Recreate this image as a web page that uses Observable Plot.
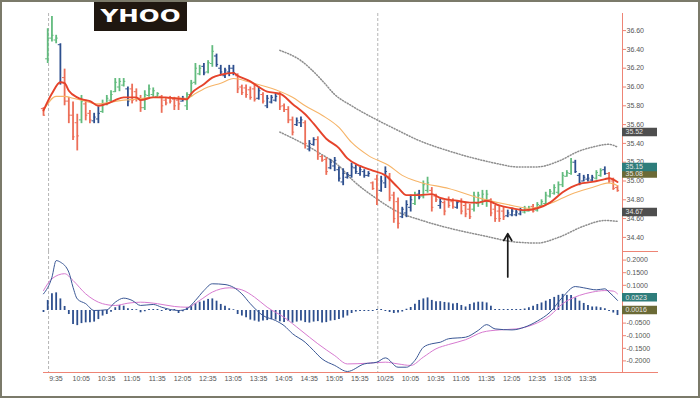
<!DOCTYPE html>
<html><head><meta charset="utf-8">
<script src="https://cdn.jsdelivr.net/npm/d3@7"></script>
<script src="https://cdn.jsdelivr.net/npm/@observablehq/plot@0.6"></script>
<style>
html,body{margin:0;padding:0;background:#fff;}
#chart{position:relative;width:700px;height:398px;overflow:hidden;background:#fff;font-family:"Liberation Sans",Arial,sans-serif;}
#chart svg.layer{position:absolute;left:0;top:0;}
#border{position:absolute;left:0;top:0;width:700px;height:398px;box-sizing:border-box;border:2px solid #7b7a6a;pointer-events:none;}
#title{position:absolute;left:94px;top:2px;width:93px;height:29px;background:#1f1710;}
#title svg{display:block;}
</style></head><body>
<div id="chart"><div id="title"><svg width="93" height="29"><text x="46.5" y="20" text-anchor="middle" textLength="80" lengthAdjust="spacingAndGlyphs" font-family="DejaVu Sans" font-weight="bold" font-size="18" fill="#fff">YHOO</text></svg></div><div id="border"></div></div>
<script>
// ---- 5-minute OHLC bars (index 0 = prior close bar, 1..78 day 1, 79..136 day 2 "10/25")
const barHigh = [
35.78,36.62,36.75,36.55,36.46,36.19,35.89,35.84,35.71,35.91,
35.86,35.75,35.72,35.79,35.86,35.91,35.96,36.09,36.09,36.09,
36.00,36.03,35.98,35.91,35.96,36.02,35.99,35.94,35.91,35.88,
35.90,35.89,35.90,35.90,35.94,36.07,36.25,36.23,36.25,36.28,
36.44,36.35,36.23,36.20,36.23,36.23,36.14,36.02,36.02,36.00,
36.02,36.00,35.94,35.91,35.91,35.93,35.94,35.82,35.79,35.68,
35.67,35.68,35.64,35.43,35.46,35.47,35.27,35.25,35.23,35.25,
35.15,35.13,35.09,35.19,35.17,35.15,35.12,35.10,34.99,35.06,
35.05,35.15,35.08,34.88,34.82,34.72,34.79,34.85,34.88,34.90,
35.00,35.04,34.93,34.86,34.81,34.79,34.83,34.81,34.79,34.81,
34.77,34.75,34.88,34.88,34.90,34.90,34.81,34.74,34.74,34.72,
34.69,34.71,34.69,34.71,34.73,34.73,34.75,34.77,34.80,34.88,
34.91,34.96,34.99,35.09,35.11,35.24,35.22,35.08,35.06,35.07,
35.06,35.11,35.13,35.15,35.09,35.03,34.95];
const barLow = [
35.69,36.25,36.48,36.46,36.02,35.80,35.61,35.43,35.32,35.61,
35.64,35.61,35.61,35.61,35.72,35.80,35.84,35.94,35.95,36.00,
35.79,35.82,35.84,35.73,35.75,35.89,35.89,35.89,35.72,35.80,
35.82,35.75,35.75,35.84,35.75,35.89,36.02,36.12,36.12,36.14,
36.21,36.21,36.12,36.09,36.11,36.12,35.93,35.91,35.88,35.86,
35.84,35.86,35.82,35.77,35.82,35.84,35.75,35.73,35.61,35.48,
35.58,35.57,35.34,35.31,35.37,35.22,35.20,35.06,35.12,35.10,
34.99,34.95,35.02,35.03,35.07,35.05,35.03,35.04,34.90,34.74,
34.88,34.92,34.78,34.55,34.49,34.60,34.61,34.67,34.74,34.80,
34.81,34.87,34.67,34.77,34.70,34.63,34.71,34.70,34.70,34.64,
34.61,34.59,34.67,34.72,34.74,34.72,34.62,34.56,34.56,34.58,
34.61,34.62,34.62,34.63,34.65,34.67,34.66,34.67,34.72,34.74,
34.82,34.85,34.85,34.93,35.04,35.06,35.08,34.95,34.99,34.99,
34.99,35.01,35.04,35.06,34.97,34.90,34.88];
const barOpen = [
35.77,36.30,36.52,36.50,36.45,36.10,35.85,35.70,35.62,35.65,
35.82,35.72,35.64,35.66,35.74,35.82,35.86,35.95,36.00,36.02,
35.98,35.98,35.95,35.88,35.78,35.91,35.92,35.90,35.90,35.86,
35.88,35.87,35.86,35.85,35.80,35.92,36.05,36.14,36.22,36.16,
36.25,36.33,36.20,36.12,36.16,36.20,36.12,36.00,35.99,35.97,
35.98,35.88,35.92,35.80,35.84,35.86,35.92,35.80,35.76,35.65,
35.60,35.62,35.62,35.34,35.39,35.44,35.26,35.23,35.14,35.16,
35.12,34.99,35.04,35.06,35.14,35.08,35.10,35.06,34.98,35.02,
34.90,34.98,35.05,34.85,34.78,34.62,34.66,34.72,34.76,34.86,
34.84,34.90,34.90,34.84,34.74,34.77,34.80,34.78,34.72,34.78,
34.74,34.70,34.70,34.76,34.78,34.80,34.80,34.70,34.68,34.68,
34.63,34.64,34.64,34.65,34.67,34.68,34.73,34.69,34.74,34.76,
34.84,34.87,34.88,34.96,35.05,35.08,35.20,35.06,35.00,35.02,
35.01,35.03,35.06,35.12,35.08,35.00,34.93];
const barClose = [
35.70,36.52,36.55,36.52,36.05,35.85,35.70,35.47,35.48,35.85,
35.70,35.65,35.68,35.72,35.82,35.88,35.92,36.05,36.06,36.06,
35.85,35.86,35.88,35.78,35.92,35.98,35.96,35.93,35.80,35.83,
35.85,35.80,35.82,35.88,35.92,36.04,36.20,36.20,36.15,36.26,
36.38,36.24,36.16,36.18,36.20,36.15,35.98,35.94,35.92,35.89,
35.87,35.96,35.85,35.88,35.89,35.90,35.79,35.76,35.65,35.52,
35.64,35.65,35.40,35.40,35.44,35.28,35.22,35.10,35.20,35.22,
35.03,35.08,35.07,35.15,35.10,35.12,35.06,35.08,34.92,34.80,
35.00,35.10,34.82,34.60,34.55,34.70,34.75,34.80,34.85,34.83,
34.96,34.98,34.72,34.80,34.78,34.68,34.74,34.73,34.77,34.68,
34.65,34.62,34.84,34.85,34.86,34.86,34.66,34.60,34.60,34.62,
34.66,34.68,34.67,34.69,34.71,34.71,34.68,34.75,34.78,34.85,
34.89,34.93,34.96,35.06,35.09,35.20,35.10,34.98,35.04,35.03,
35.04,35.09,35.11,35.08,35.00,34.92,34.90];
// g = green, b = blue, r = red (impulse colouring)
const barColorKey = [
"r","g","g","g","b","r","r","r","r","g",
"r","r","b","b","g","g","g","g","g","g",
"b","r","r","r","g","g","g","g","r","r",
"r","r","r","b","g","g","g","g","b","g",
"g","b","b","b","b","b","r","r","r","r",
"r","b","r","b","b","b","r","r","r","r",
"b","b","r","b","b","r","r","r","b","b",
"b","b","b","b","b","b","b","b","r","r",
"b","b","r","r","r","b","b","b","g","b",
"g","g","r","r","b","r","r","r","b","r",
"r","r","g","g","g","g","r","r","r","r",
"b","b","b","b","g","g","r","g","g","g",
"g","g","g","g","g","g","b","b","b","b",
"b","g","g","b","r","r","r"];

// ---- moving averages (read at sample bars)
const redMaIdx = [0,2,4,5,6,8,9,11,13,15,17,19,22,23,26,29,31,34,35,38,40,42,45,46,49,51,53,56,59,62,64,67,70,72,75,78,81,84,86,89,92,94,98,101,103,105,108,111,114,117,120,123,127,130,133,134,136];
const redMaVal = [35.75,35.93,36.05,36.04,35.96,35.89,35.87,35.85,35.80,35.82,35.86,35.89,35.89,35.86,35.89,35.89,35.88,35.87,35.93,36.03,36.10,36.13,36.15,36.12,36.06,36.00,35.95,35.93,35.82,35.71,35.61,35.45,35.35,35.24,35.16,35.11,35.06,34.93,34.85,34.85,34.86,34.82,34.79,34.77,34.77,34.79,34.74,34.71,34.69,34.71,34.77,34.88,34.97,34.99,35.02,35.03,34.99];
const orangeMaIdx = [0,3,5,7,9,13,16,19,22,26,34,36,39,42,45,49,53,55,59,62,66,70,73,77,82,85,89,96,104,111,115,120,125,130,134,136];
const orangeMaVal = [35.75,35.90,35.90,35.88,35.86,35.82,35.84,35.86,35.87,35.89,35.88,35.93,36.00,36.04,36.09,36.05,36.00,35.97,35.89,35.80,35.70,35.57,35.41,35.27,35.16,35.06,34.99,34.92,34.81,34.74,34.71,34.76,34.86,34.93,34.98,34.95];
// ---- envelope bands (dotted)
const upperBandIdx = [56,61,66,69,73,79,83,89,96,104,108,112,117,122,127,130,134,136];
const upperBandVal = [36.39,36.28,36.07,35.92,35.80,35.65,35.56,35.43,35.32,35.22,35.18,35.15,35.15,35.21,35.32,35.36,35.39,35.36];
const lowerBandIdx = [56,61,66,70,73,79,84,89,96,104,112,117,122,128,133,136];
const lowerBandVal = [35.52,35.41,35.28,35.16,35.02,34.81,34.67,34.59,34.50,34.42,34.35,34.34,34.40,34.52,34.58,34.57];

// ---- MACD panel
const macdIdx = [0,2,3,4,6,7,8,10,12,15,17,19,21,23,26,28,32,34,36,38,40,43,45,47,49,52,55,57,59,62,64,66,69,72,76,79,81,84,86,88,90,92,94,96,100,103,105,107,111,114,117,120,123,126,128,131,133,134,136];
const macdVal = [0.066,0.132,0.198,0.192,0.152,0.092,0.046,0.027,0.000,0.003,0.033,0.049,0.040,0.020,0.024,0.013,0.000,0.007,0.040,0.079,0.106,0.103,0.092,0.066,0.027,-0.020,-0.040,-0.060,-0.092,-0.126,-0.159,-0.192,-0.218,-0.242,-0.212,-0.205,-0.188,-0.225,-0.225,-0.198,-0.146,-0.132,-0.126,-0.112,-0.106,-0.079,-0.056,-0.073,-0.077,-0.066,-0.042,-0.007,0.053,0.095,0.090,0.082,0.086,0.073,0.040];
const signalIdx = [0,2,5,7,10,14,17,20,23,27,31,34,37,40,44,47,50,53,57,61,65,69,72,77,81,84,87,90,93,96,100,104,108,112,116,120,123,127,130,133,135,136];
const signalVal = [0.079,0.126,0.146,0.119,0.066,0.027,0.020,0.029,0.033,0.027,0.016,0.013,0.040,0.073,0.090,0.082,0.053,0.013,-0.027,-0.079,-0.132,-0.179,-0.212,-0.209,-0.205,-0.212,-0.218,-0.185,-0.152,-0.135,-0.116,-0.086,-0.077,-0.073,-0.056,-0.020,0.027,0.060,0.073,0.079,0.077,0.066];
const macdHist = [
-0.008,0.040,0.066,0.070,0.046,0.016,-0.016,-0.056,-0.060,-0.052,
-0.049,-0.049,-0.046,-0.036,-0.022,-0.016,-0.007,0.011,0.020,0.017,
0.007,0.004,0.003,-0.009,-0.005,0.004,0.004,0.004,-0.004,0.004,
-0.004,0.004,-0.012,-0.005,0.011,0.017,0.028,0.033,0.037,0.044,
0.046,0.037,0.024,0.017,0.007,0.003,-0.016,-0.022,-0.029,-0.038,
-0.042,-0.046,-0.042,-0.040,-0.036,-0.038,-0.045,-0.048,-0.044,-0.050,
-0.046,-0.042,-0.048,-0.050,-0.046,-0.044,-0.050,-0.048,-0.042,-0.040,
-0.036,-0.030,-0.022,-0.012,-0.006,-0.004,-0.004,-0.004,-0.004,0.004,
0.004,-0.004,-0.008,-0.012,-0.010,-0.006,0.005,0.012,0.025,0.040,
0.046,0.050,0.040,0.035,0.035,0.032,0.030,0.026,0.028,0.020,
0.014,0.024,0.030,0.033,0.033,0.030,0.017,0.004,0.004,0.004,
0.004,0.004,0.004,0.004,0.006,0.011,0.017,0.024,0.030,0.037,
0.044,0.052,0.060,0.064,0.060,0.060,0.050,0.037,0.028,0.020,
0.014,0.014,0.011,0.007,-0.004,-0.010,-0.020];

// ---- axes, labels, annotations
const priceTicks = [34.4,34.6,34.8,35.0,35.2,35.4,35.6,35.8,36.0,36.2,36.4,36.6];
const macdTicks = [-0.2,-0.15,-0.1,-0.05,0,0.05,0.1,0.15,0.2];
const xTickIdx = [2,8,14,20,26,32,38,44,50,56,62,68,74,80,86,92,98,104,110,116,122,128];
const xTickLabel = ["9:35","10:05","10:35","11:05","11:35","12:05","12:35","13:05","13:35","14:05","14:35","15:05","15:35","10/25","10:05","10:35","11:05","11:35","12:05","12:35","13:05","13:35"];
const dayStart = [1.2, 79.2];
const priceBoxVal = [35.52, 35.08, 35.15, 34.67];
const priceBoxColor = ["#4e4e4e", "#6b6a36", "#2e7d7b", "#4e4e4e"];
const macdBoxVal = [0.0523, 0.0016];
const macdBoxColor = ["#2e7d7b", "#6b6a36"];
const arrowIndex = [110];
const arrowBase = [33.98];
const arrowTip = [34.44];

const bars = barHigh.map((h, i) => ({i, h, l: barLow[i], o: barOpen[i], c: barClose[i], k: barColorKey[i]}));
const barColor = {g: "#62bb7e", b: "#2d4f8e", r: "#ec6e58"};
const xScale = {domain: [0, 136], range: [43, 617]};
const priceY = {domain: [34.2, 36.8], range: [255.7, 11.3]};
const macdY = {domain: [-0.25, 0.25], range: [373, 247]};
const axisRed = "#ee8475";
const common = {width: 700, height: 398,
  style: {background: "transparent", fontFamily: "Liberation Sans, Arial, sans-serif", fontSize: "7px", overflow: "visible"}};

const pricePlot = Plot.plot({...common, marginLeft: 43, marginRight: 78, marginTop: 13, marginBottom: 147,
  x: {...xScale, axis: null}, y: {...priceY, axis: null}, color: {type: "identity"},
  marks: [
    Plot.ruleX(dayStart, {x: d => d, stroke: "#b5b5b5", strokeDasharray: "3,2"}),
    Plot.line(upperBandVal, {x: upperBandIdx, y: upperBandVal, stroke: "#8e8e8e", strokeDasharray: "1,1.8", curve: "monotone-x"}),
    Plot.line(lowerBandVal, {x: lowerBandIdx, y: lowerBandVal, stroke: "#8e8e8e", strokeDasharray: "1,1.8", curve: "monotone-x"}),
    Plot.ruleX(bars, {x: "i", y1: "l", y2: "h", stroke: d => barColor[d.k], strokeWidth: 1.8}),
    Plot.ruleY(bars, {y: "o", x1: d => d.i - 0.5, x2: "i", stroke: d => barColor[d.k], strokeWidth: 1}),
    Plot.ruleY(bars, {y: "c", x1: "i", x2: d => d.i + 0.5, stroke: d => barColor[d.k], strokeWidth: 1}),
    Plot.line(orangeMaVal, {x: orangeMaIdx, y: orangeMaVal, stroke: "#f6b468", strokeWidth: 1.1, curve: "monotone-x"}),
    Plot.line(redMaVal, {x: redMaIdx, y: redMaVal, stroke: "#e5432b", strokeWidth: 1.9, curve: "monotone-x"}),
    Plot.arrow(arrowIndex, {x: d => d, y1: arrowBase, y2: arrowTip, stroke: "#1a1a1a", strokeWidth: 1.7, headLength: 7}),
    Plot.frame({anchor: "right", stroke: axisRed}),
    Plot.axisY(priceTicks, {anchor: "right", tickSize: 3, tickPadding: 1, tickFormat: d => d.toFixed(2), stroke: axisRed, fill: "#555", label: null})
  ]});

const priceLabels = Plot.plot({...common, marginLeft: 622, marginRight: 43, marginTop: 13, marginBottom: 147,
  y: {...priceY, axis: null}, color: {type: "identity"},
  marks: [
    Plot.frame({anchor: "bottom", stroke: axisRed}),
    Plot.ruleY(priceBoxVal, {y: d => d, stroke: priceBoxColor, strokeWidth: 8.5}),
    Plot.text(priceBoxVal, {y: d => d, text: d => d.toFixed(2), frameAnchor: "left", dx: 3, textAnchor: "start", fill: "#e4e4e4", fontSize: 7})
  ]});

const macdPlot = Plot.plot({...common, marginLeft: 43, marginRight: 78, marginTop: 251, marginBottom: 26,
  x: {...xScale, axis: null}, y: {...macdY, axis: null}, color: {type: "identity"},
  marks: [
    Plot.ruleX(dayStart, {x: d => d, stroke: "#b5b5b5", strokeDasharray: "3,2"}),
    Plot.ruleX(macdHist, {x: (d, i) => i, y1: 0, y2: d => d, stroke: "#2d4f8e", strokeWidth: 1.8}),
    Plot.line(signalVal, {x: signalIdx, y: signalVal, stroke: "#d77ad0", strokeWidth: 1, curve: "monotone-x"}),
    Plot.line(macdVal, {x: macdIdx, y: macdVal, stroke: "#3a5795", strokeWidth: 1, curve: "monotone-x"}),
    Plot.frame({anchor: "right", stroke: axisRed}),
    Plot.frame({anchor: "bottom", stroke: axisRed}),
    Plot.axisY(macdTicks, {anchor: "right", tickSize: 3, tickPadding: 1, tickFormat: d => d.toFixed(4), stroke: axisRed, fill: "#555", label: null}),
    Plot.axisX(xTickIdx, {anchor: "bottom", tickSize: 0, tickPadding: 4, dx: 4, tickFormat: d => xTickLabel[xTickIdx.indexOf(d)], fill: "#555", label: null})
  ]});

const macdLabels = Plot.plot({...common, marginLeft: 622, marginRight: 43, marginTop: 251, marginBottom: 26,
  y: {...macdY, axis: null}, color: {type: "identity"},
  marks: [
    Plot.frame({anchor: "bottom", stroke: axisRed}),
    Plot.ruleY(macdBoxVal, {y: d => d, stroke: macdBoxColor, strokeWidth: 8.5}),
    Plot.text(macdBoxVal, {y: d => d, text: d => d.toFixed(4), frameAnchor: "left", dx: 3, textAnchor: "start", fill: "#e4e4e4", fontSize: 7})
  ]});

const chart = document.getElementById("chart");
const titleDiv = document.getElementById("title");
for (const svg of [pricePlot, macdPlot, priceLabels, macdLabels]) {
  svg.classList.add("layer");
  chart.insertBefore(svg, titleDiv);
}
</script>
</body></html>
